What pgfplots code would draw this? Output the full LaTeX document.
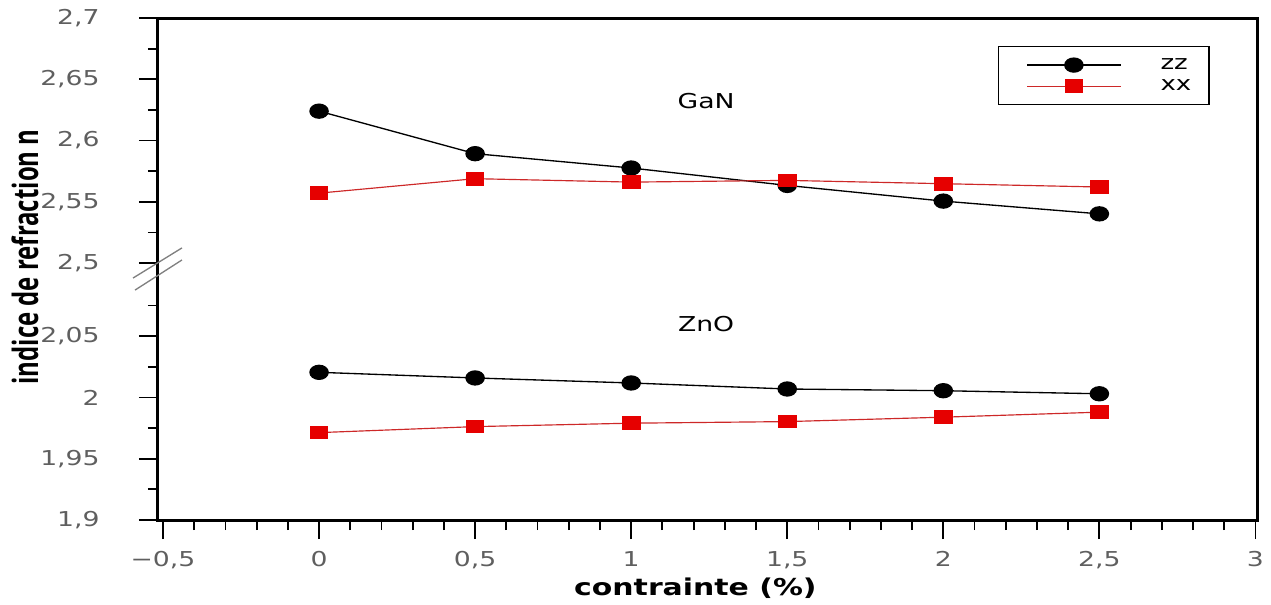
\documentclass[border=0pt]{standalone}
\usepackage{pgfplots}
\pgfplotsset{compat=1.18}
\usepackage{pgfplotstable}
\usepackage{graphicx}
\usepackage{fontspec}
\setmainfont{DejaVu Sans}
\newfontfamily\labfont{Open Sans}
\definecolor{tickgray}{RGB}{95,95,95}
\definecolor{mred}{RGB}{230,0,0}
\definecolor{lred}{RGB}{205,40,40}
\newcommand{\tl}[1]{\scalebox{1.3}[1]{#1}}

% GaN (upper part of the broken axis)
\pgfplotstableread{
x    zz      xx
0    2.6240  2.5571
0.5  2.5893  2.5689
1    2.5776  2.5661
1.5  2.5634  2.5675
2    2.5506  2.5648
2.5  2.5402  2.5621
}\gan
% ZnO (lower part)
\pgfplotstableread{
x    zz      xx
0    2.0205  1.9713
0.5  2.0159  1.9762
1    2.0118  1.9790
1.5  2.0069  1.9803
2    2.0055  1.9839
2.5  2.0030  1.9880
}\zno

\begin{document}
\begin{tikzpicture}
\begin{axis}[
  scale only axis, width=659.4pt, height=301.2pt,
  xmin=-0.516, xmax=3.005, ymin=1.9, ymax=2.3096,
  clip=false,
  axis line style={line width=1.8pt},
  every tick/.style={black, line width=1.1pt},
  tick align=outside,
  xtick pos=bottom, ytick pos=left,
  major tick length=11.5pt, minor tick length=6pt,
  xtick={-0.5,0,0.5,1,1.5,2,2.5,3},
  xticklabels={{\tl{−0,5}},{\tl{0}},{\tl{0,5}},{\tl{1}},{\tl{1,5}},{\tl{2}},{\tl{2,5}},{\tl{3}}},
  minor x tick num=4,
  ytick={1.9,1.95,2,2.05,2.1096,2.1596,2.2096,2.2596,2.3096},
  yticklabels={{\tl{1,9}},{\tl{1,95}},{\tl{2}},{\tl{2,05}},{\tl{2,5}},{\tl{2,55}},{\tl{2,6}},{\tl{2,65}},{\tl{2,7}}},
  minor ytick={1.925,1.975,2.025,2.075,2.1346,2.1846,2.2346,2.2846},
  /pgf/number format/assume math mode=true,
  ticklabel style={font=\fontsize{12.3}{14}\selectfont, text=tickgray},
  yticklabel style={anchor=east, xshift=-20pt},
  xticklabel style={anchor=north, yshift=-4pt},
  xlabel={\bfseries contrainte (\%)},
  xlabel style={font=\fontsize{13.9}{16}\selectfont, xscale=1.29, at={(axis description cs:0.489,-0.135)}, anchor=center},
  ylabel={\resizebox{153pt}{16pt}{\labfont\bfseries indice de refraction n}},
  ylabel style={at={(axis description cs:-0.121,0.524)}, anchor=center, rotate=0},
  legend style={at={(0.764,0.944)}, anchor=north west, draw=black, line width=0.7pt,
    font=\fontsize{12}{14}\selectfont, inner xsep=8pt, inner ysep=5pt, row sep=0.6pt,
    nodes={xscale=1.3}},
  legend cell align=left,
  legend image code/.code={\path (-9pt,0pt) (77pt,0pt);\draw[mark repeat=2,mark phase=2,#1] plot coordinates {(0pt,0pt)(28pt,0pt)(56pt,0pt)};},
]
\addplot[black, line width=0.8pt, mark=*, mark size=4.2pt, mark options={xscale=1.3}]
  table[x=x, y expr=\thisrow{zz}-0.3904] {\gan};
\addlegendentry{zz}
\addplot[lred, line width=0.7pt, mark=square*, mark size=3.75pt, mark options={xscale=1.4, fill=mred, draw=mred}]
  table[x=x, y expr=\thisrow{xx}-0.3904] {\gan};
\addlegendentry{xx}
\addplot[black, line width=0.8pt, mark=*, mark size=4.2pt, mark options={xscale=1.3}, forget plot]
  table[x=x, y=zz] {\zno};
\addplot[lred, line width=0.7pt, mark=square*, mark size=3.75pt, mark options={xscale=1.4, fill=mred, draw=mred}, forget plot]
  table[x=x, y=xx] {\zno};

\node[font=\fontsize{12.3}{14}\selectfont, text={rgb,255:black,1;white,0.15}, xscale=1.3] at (axis cs:1.24,2.2416) {GaN};
\node[font=\fontsize{12.3}{14}\selectfont, text={rgb,255:black,1;white,0.15}, xscale=1.3] at (axis cs:1.24,2.0596) {ZnO};

% axis break marks
\draw[gray, line width=0.8pt] (axis description cs:-0.0227,0.482) -- (axis description cs:0.0218,0.542);
\draw[gray, line width=0.8pt] (axis description cs:-0.0209,0.458) -- (axis description cs:0.0218,0.518);

\coordinate (ll) at (rel axis cs:0,0);
\end{axis}
\pgfresetboundingbox
\path (ll) ++(-94.8pt,-50.4pt) rectangle ++(762.6pt,362.4pt);
\end{tikzpicture}
\end{document}
